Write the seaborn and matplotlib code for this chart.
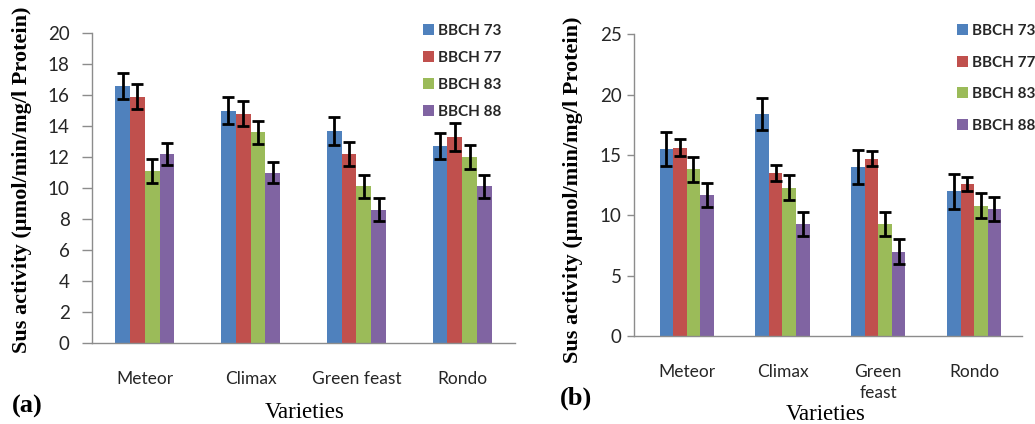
import matplotlib
matplotlib.use("Agg")
import matplotlib.pyplot as plt
import seaborn as sns
import pandas as pd
import numpy as np
from matplotlib.patches import Patch

varieties = ["Meteor", "Climax", "Green feast", "Rondo"]
varieties_b = ["Meteor", "Climax", "Green\nfeast", "Rondo"]
stages = ["BBCH 73", "BBCH 77", "BBCH 83", "BBCH 88"]

a_bbch73 = [16.6, 15.0, 13.7, 12.7]
a_bbch77 = [15.9, 14.8, 12.2, 13.3]
a_bbch83 = [11.1, 13.6, 10.1, 12.0]
a_bbch88 = [12.2, 11.0, 8.6, 10.1]
a_err73 = [0.85, 0.85, 0.9, 0.85]
a_err77 = [0.8, 0.8, 0.8, 0.9]
a_err83 = [0.75, 0.75, 0.75, 0.75]
a_err88 = [0.7, 0.7, 0.75, 0.75]

b_bbch73 = [15.5, 18.4, 14.0, 12.0]
b_bbch77 = [15.6, 13.5, 14.7, 12.6]
b_bbch83 = [13.8, 12.3, 9.3, 10.8]
b_bbch88 = [11.7, 9.3, 7.0, 10.5]
b_err73 = [1.4, 1.35, 1.4, 1.45]
b_err77 = [0.7, 0.65, 0.6, 0.6]
b_err83 = [1.05, 1.05, 1.0, 1.05]
b_err88 = [1.0, 1.0, 1.0, 1.0]

yticks_a = [0, 2, 4, 6, 8, 10, 12, 14, 16, 18, 20]
yticks_b = [0, 5, 10, 15, 20, 25]

colors = ["#4F81BD", "#C0504D", "#9BBB59", "#8064A2"]

sns.set_theme(style="white")
plt.rcParams["font.family"] = ["Lato", "DejaVu Sans"]

AXIS_C = "#8c8c8c"
TXT_C = "#262626"
SERIF = ["Liberation Serif", "DejaVu Serif"]


def long_df(vals, errs, cats):
    rows = []
    for s, v, e in zip(stages, vals, errs):
        for c, vv, ee in zip(cats, v, e):
            rows.append({"variety": c, "stage": s, "value": vv, "err": ee})
    return pd.DataFrame(rows)


def draw(ax, df, cats, ymax, yticks, width, xlim, tick_len, tick_pad, xpad):
    sns.barplot(data=df, x="variety", y="value", hue="stage", order=cats,
                hue_order=stages, palette=colors, width=width, errorbar=None,
                saturation=1, linewidth=0, ax=ax, legend=False)
    for cont, s in zip(ax.containers, stages):
        sub = df[df["stage"] == s].set_index("variety").loc[cats]
        xs = [p.get_x() + p.get_width() / 2 for p in cont.patches]
        ax.errorbar(xs, sub["value"].values, yerr=sub["err"].values, fmt="none",
                    ecolor="black", elinewidth=2, capsize=4, capthick=2, zorder=5)
    ax.set_ylim(0, ymax)
    ax.set_yticks(yticks)
    ax.set_xlim(*xlim)
    ax.set_xlabel("")
    ax.set_ylabel("")
    for side in ["top", "right"]:
        ax.spines[side].set_visible(False)
    for side in ["left", "bottom"]:
        ax.spines[side].set_color(AXIS_C)
        ax.spines[side].set_linewidth(1)
    ax.tick_params(axis="y", which="both", left=True, length=tick_len, width=1,
                   color=AXIS_C, pad=tick_pad, labelsize=13.5, labelcolor=TXT_C)
    ax.tick_params(axis="x", bottom=False, pad=xpad, labelsize=12.5, labelcolor=TXT_C)
    ax.set_facecolor("white")


fig = plt.figure(figsize=(10.35, 4.24), dpi=100)
fig.patch.set_facecolor("white")

ax1 = fig.add_axes([92 / 1035, 1 - 343 / 424, (515 - 92) / 1035, (343 - 33) / 424])
ax2 = fig.add_axes([634 / 1035, 1 - 336 / 424, (1022 - 634) / 1035, (336 - 34.3) / 424])

df_a = long_df([a_bbch73, a_bbch77, a_bbch83, a_bbch88],
               [a_err73, a_err77, a_err83, a_err88], varieties)
df_b = long_df([b_bbch73, b_bbch77, b_bbch83, b_bbch88],
               [b_err73, b_err77, b_err83, b_err88], varieties_b)

draw(ax1, df_a, varieties, 20, yticks_a, 0.56, (-0.5, 3.5), 7, 9, 14)
draw(ax2, df_b, varieties_b, 25, yticks_b, 0.565, (-0.55, 3.5), 5, 4, 14)
for lab in ax2.get_xticklabels():
    lab.set_linespacing(1.4)

handles = [Patch(facecolor=c, edgecolor="none") for c in colors]
leg_kw = dict(frameon=False, handlelength=0.75, handleheight=0.75,
              handletextpad=0.25, borderaxespad=0, borderpad=0,
              prop={"family": ["Lato", "DejaVu Sans"], "weight": "bold", "size": 11})
leg1 = fig.legend(handles, stages, loc="upper left",
                  bbox_to_anchor=(423 / 1035, 1 - 24 / 424), labelspacing=0.85, **leg_kw)
leg2 = fig.legend(handles, stages, loc="upper left",
                  bbox_to_anchor=(957 / 1035, 1 - 24 / 424), labelspacing=1.15, **leg_kw)
for lg in (leg1, leg2):
    for t in lg.get_texts():
        t.set_color(TXT_C)

ylab = "Sus activity (\u00b5mol/min/mg/l Protein)"
fig.text(22 / 1035, 1 - 180 / 424, ylab, rotation=90, ha="center", va="center",
         family=SERIF, weight="bold", size=16, color="black")
fig.text(573 / 1035, 1 - 190 / 424, ylab, rotation=90, ha="center", va="center",
         family=SERIF, weight="bold", size=16, color="black")

fig.text(305 / 1035, 1 - 413 / 424, "Varieties", ha="center", va="center",
         family=SERIF, size=16.5, color="black")
fig.text(826 / 1035, 1 - 414 / 424, "Varieties", ha="center", va="center",
         family=SERIF, size=16.5, color="black")
fig.text(27 / 1035, 1 - 406 / 424, "(a)", ha="center", va="center",
         family=SERIF, weight="bold", size=19, color="black")
fig.text(576 / 1035, 1 - 398 / 424, "(b)", ha="center", va="center",
         family=SERIF, weight="bold", size=19, color="black")

fig.savefig("out.png", dpi=100, facecolor="white")
